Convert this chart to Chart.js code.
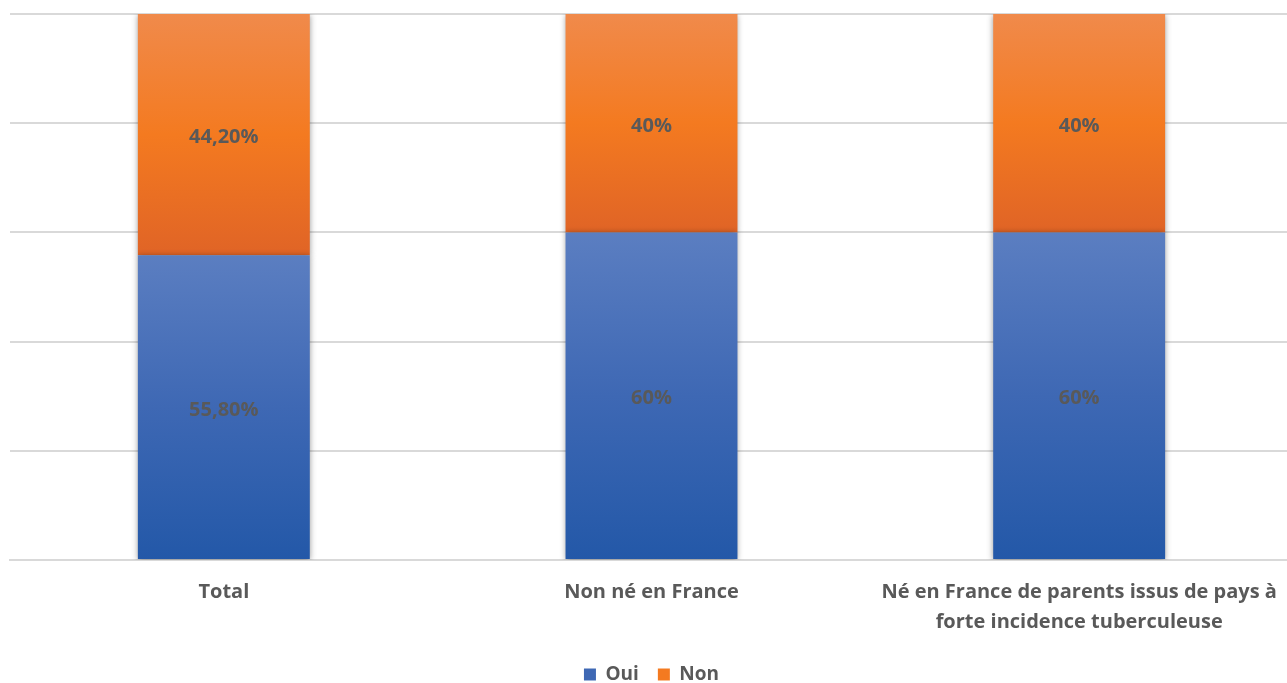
<!DOCTYPE html>
<html lang="fr">
<head>
<meta charset="utf-8">
<title>Oui / Non</title>
<script src="https://cdn.jsdelivr.net/npm/chart.js@4.4.1/dist/chart.umd.min.js"></script>
<style>
    html, body { margin: 0; padding: 0; background: #fff; overflow: hidden; }
    #wrap { position: absolute; left: 0; top: 0; width: 1293px; height: 694px; }
</style>
</head>
<body>
<div id="wrap"><canvas id="graphique"></canvas></div>
<script>
// catégories et pourcentages
const categories = [
    "Total",
    "Non né en France",
    ["Né en France de parents issus de pays à", "forte incidence tuberculeuse"]
];
const oui = [55.8, 60, 60];
const non = [44.2, 40, 40];
const yTicks = [0, 20, 40, 60, 80, 100];

const police = "'Open Sans', Lato, sans-serif";
const gris = "#595959";

// format français : 44,20% / 40%
function formatPct(v) {
    if (Number.isInteger(v)) return v + "%";
    return v.toFixed(2).replace(".", ",") + "%";
}

// dégradé vertical calculé sur la hauteur du segment
function degrade(ctx, haut, bas, couleurs) {
    const chart = ctx.chart;
    const y = chart.scales.y;
    if (!y || !chart.chartArea) return couleurs[1];
    const i = ctx.dataIndex;
    const yHaut = y.getPixelForValue(haut(i));
    const yBas = y.getPixelForValue(bas(i));
    const g = chart.ctx.createLinearGradient(0, yHaut, 0, yBas);
    g.addColorStop(0, couleurs[0]);
    g.addColorStop(0.5, couleurs[1]);
    g.addColorStop(1, couleurs[2]);
    return g;
}

const ombreBarres = {
    id: "ombreBarres",
    beforeDatasetsDraw(chart) {
        const c = chart.ctx;
        c.save();
        c.shadowColor = "rgba(0,0,0,0.4)";
        c.shadowBlur = 6;
        c.shadowOffsetX = 0;
        c.shadowOffsetY = 1;
    },
    afterDatasetsDraw(chart) {
        chart.ctx.restore();
    }
};

const etiquettes = {
    id: "etiquettes",
    afterDatasetsDraw(chart) {
        const c = chart.ctx;
        c.save();
        c.font = "bold 20px " + police;
        c.fillStyle = gris;
        c.textAlign = "center";
        c.textBaseline = "middle";
        chart.data.datasets.forEach((ds, di) => {
            chart.getDatasetMeta(di).data.forEach((bar, i) => {
                const milieu = (bar.y + bar.base) / 2;
                c.fillText(formatPct(ds.data[i]), bar.x, milieu + 3);
            });
        });
        c.restore();
    }
};

new Chart(document.getElementById("graphique"), {
    type: "bar",
    data: {
        labels: categories,
        datasets: [
            {
                label: "Oui",
                data: oui,
                backgroundColor: ctx => degrade(ctx, i => oui[i], () => 0,
                    ["#5b7ec1", "#3e68b4", "#2358a8"])
            },
            {
                label: "Non",
                data: non,
                backgroundColor: ctx => degrade(ctx, i => oui[i] + non[i], i => oui[i],
                    ["#f08a4b", "#f47a20", "#e06426"])
            }
        ]
    },
    options: {
        responsive: true,
        maintainAspectRatio: false,
        animation: false,
        layout: { padding: { left: 10, right: 0, top: 14, bottom: 0 } },
        datasets: {
            bar: { categoryPercentage: 1, barPercentage: 0.402 }
        },
        scales: {
            x: {
                stacked: true,
                grid: { display: false },
                border: { color: "#d9d9d9", width: 2 },
                ticks: {
                    color: gris,
                    font: { family: police, size: 20, weight: "bold", lineHeight: "30px" },
                    padding: 9,
                    maxRotation: 0,
                    autoSkip: false
                },
                afterFit(scale) { scale.height = 86; }
            },
            y: {
                stacked: true,
                min: 0,
                max: 100,
                afterBuildTicks(scale) { scale.ticks = yTicks.map(v => ({ value: v })); },
                ticks: { display: false },
                grid: { color: "#d9d9d9", lineWidth: 2, drawTicks: false },
                border: { display: false },
                afterFit(scale) { scale.width = 0; }
            }
        },
        plugins: {
            tooltip: { enabled: false },
            legend: {
                position: "bottom",
                labels: {
                    color: gris,
                    font: { family: police, size: 19, weight: "bold" },
                    boxWidth: 12,
                    boxHeight: 12,
                    padding: 19,
                    generateLabels(chart) {
                        const coul = ["#3e68b4", "#f47a20"];
                        return chart.data.datasets.map((ds, i) => ({
                            text: ds.label,
                            fillStyle: coul[i],
                            strokeStyle: coul[i],
                            lineWidth: 0,
                            fontColor: gris,
                            datasetIndex: i
                        }));
                    }
                }
            }
        }
    },
    plugins: [ombreBarres, etiquettes]
});
</script>
</body>
</html>
